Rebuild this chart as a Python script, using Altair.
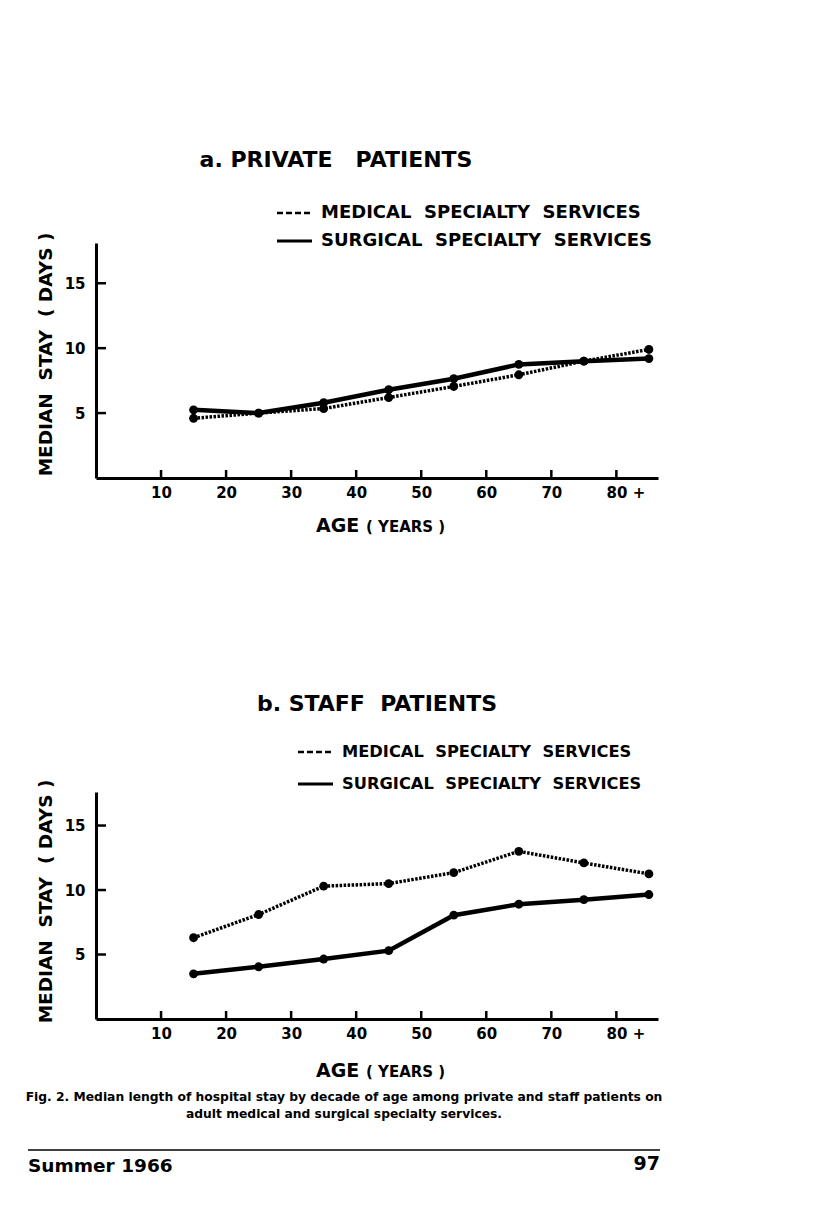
import altair as alt
import pandas as pd

# ---- data ----
ages = [15, 25, 35, 45, 55, 65, 75, 85]
private_medical = [4.6, 5.0, 5.35, 6.2, 7.05, 7.95, 9.0, 9.9]
private_surgical = [5.25, 5.0, 5.8, 6.8, 7.65, 8.75, 9.0, 9.2]
staff_medical = [6.3, 8.1, 10.3, 10.5, 11.35, 13.0, 12.1, 11.25]
staff_surgical = [3.5, 4.05, 4.65, 5.3, 8.05, 8.9, 9.25, 9.65]
x_ticks = [10, 20, 30, 40, 50, 60, 70, 80]
y_ticks = [5, 10, 15]

FONT = "DejaVu Sans"
NB = "\u00a0"
W = 562


def txt(text, x, y, size, align="left", font=FONT, baseline="middle"):
    return alt.Chart(alt.Data(values=[{}])).mark_text(
        text=text, font=font, fontSize=size, fontWeight="bold", color="black",
        align=align, baseline=baseline
    ).encode(x=alt.value(x), y=alt.value(y))


def panel(med, surg, H, ymax, title, title_x, title_y, leg_x, leg_y1, leg_y2,
          leg_size, ytitle_x, ytitle_y, age_y, extra=None):
    df = pd.DataFrame({
        "age": ages * 2,
        "val": med + surg,
        "s": ["med"] * len(ages) + ["surg"] * len(ages),
    })
    xs = alt.Scale(domain=[0, 86.4], nice=False, zero=False)
    ys = alt.Scale(domain=[0, ymax], nice=False, zero=False)
    xaxis = alt.Axis(values=x_ticks, ticks=False, grid=False, title=None,
                     domainWidth=3, domainColor="black", labelColor="black",
                     labelFont=FONT, labelFontSize=15, labelFontWeight="bold",
                     labelPadding=7, labelFlush=False, labelOverlap=False,
                     labelExpr="datum.value == 80 ? '80 +' : datum.label",
                     labelOffset={"condition": {"test": "datum.value == 80", "value": 9}, "value": 0})
    yaxis = alt.Axis(values=y_ticks, ticks=False, grid=False,
                     title=f"MEDIAN{NB}{NB}STAY{NB}{NB}({NB}DAYS{NB})", titleFont=FONT,
                     titleFontSize=18.5,
                     titleFontWeight="bold", titleColor="black", titleAngle=270,
                     titleX=ytitle_x, titleY=ytitle_y, titleAlign="center",
                     titleBaseline="middle",
                     domainWidth=3, domainColor="black", labelColor="black",
                     labelFont=FONT, labelFontSize=15, labelFontWeight="bold",
                     labelPadding=11, labelFlush=False)
    X = alt.X("age:Q", scale=xs, axis=xaxis)
    Y = alt.Y("val:Q", scale=ys, axis=yaxis)

    med_line = alt.Chart(df).transform_filter("datum.s == 'med'").mark_line(
        color="black", strokeWidth=3.5, strokeDash=[2.5, 1.5]).encode(x=X, y=Y)
    surg_line = alt.Chart(df).transform_filter("datum.s == 'surg'").mark_line(
        color="black", strokeWidth=4.5).encode(x=X, y=Y)
    pts = alt.Chart(df).mark_circle(size=78, color="black", opacity=1).encode(x=X, y=Y)

    ytk = alt.Chart(pd.DataFrame({"v": y_ticks})).mark_rule(
        color="black", strokeWidth=2.5).encode(
        y=alt.Y("v:Q", scale=ys, axis=yaxis), x=alt.value(0), x2=alt.value(10))
    xtk = alt.Chart(pd.DataFrame({"v": x_ticks})).mark_rule(
        color="black", strokeWidth=2.5).encode(
        x=alt.X("v:Q", scale=xs, axis=xaxis), y=alt.value(H), y2=alt.value(H - 8))

    layers = [ytk, xtk, med_line, surg_line, pts,
              txt(title, title_x, title_y, 22, align="center"),
              alt.Chart(alt.Data(values=[{}])).mark_rule(
                  color="black", strokeWidth=2.5, strokeDash=[6, 3]).encode(
                  x=alt.value(leg_x), x2=alt.value(leg_x + 33),
                  y=alt.value(leg_y1), y2=alt.value(leg_y1)),
              alt.Chart(alt.Data(values=[{}])).mark_rule(
                  color="black", strokeWidth=3).encode(
                  x=alt.value(leg_x), x2=alt.value(leg_x + 35),
                  y=alt.value(leg_y2), y2=alt.value(leg_y2)),
              txt(f"MEDICAL{NB}{NB}SPECIALTY{NB}{NB}SERVICES", leg_x + 44, leg_y1, leg_size),
              txt(f"SURGICAL{NB}{NB}SPECIALTY{NB}{NB}SERVICES", leg_x + 44, leg_y2, leg_size),
              txt("AGE", 220, age_y, 19),
              txt(f"({NB}YEARS{NB})", 270, age_y + 1, 15),
              ]
    if extra:
        layers += extra
    return alt.layer(*layers).properties(width=W, height=H)


anchor = alt.Chart(alt.Data(values=[{}])).mark_rule(
    opacity=0, strokeWidth=0.01).encode(
    x=alt.value(-88), x2=alt.value(-88), y=alt.value(-235), y2=alt.value(-234))

top = panel(private_medical, private_surgical, 235, 18.1,
            f"a.{NB}PRIVATE{NB}{NB}{NB}PATIENTS", 240, -83, 181, -30, -2, 18,
            -51, 111, 283, extra=[anchor])

footer = [
    txt("Fig. 2. Median length of hospital stay by decade of age among private and staff patients on",
        248, 305, 12.3, align="center"),
    txt("adult medical and surgical specialty services.", 248, 322, 12.3,
        align="center"),
    alt.Chart(alt.Data(values=[{}])).mark_rule(color="black", strokeWidth=1.5).encode(
        x=alt.value(-68), x2=alt.value(564), y=alt.value(358), y2=alt.value(358)),
    txt("Summer 1966", -68, 374, 18.5),
    txt("97", 564, 372, 19, align="right"),
]

bottom = panel(staff_medical, staff_surgical, 227, 17.6,
               f"b.{NB}STAFF{NB}{NB}PATIENTS", 281, -88, 202, -40, -8, 16.3,
               -51, 109, 279, extra=footer)

chart = alt.vconcat(top, bottom, spacing=314, bounds="flush").properties(
    padding=0).configure_view(stroke=None)

chart.save("out.html", embed_options={"renderer": "svg", "actions": False})
